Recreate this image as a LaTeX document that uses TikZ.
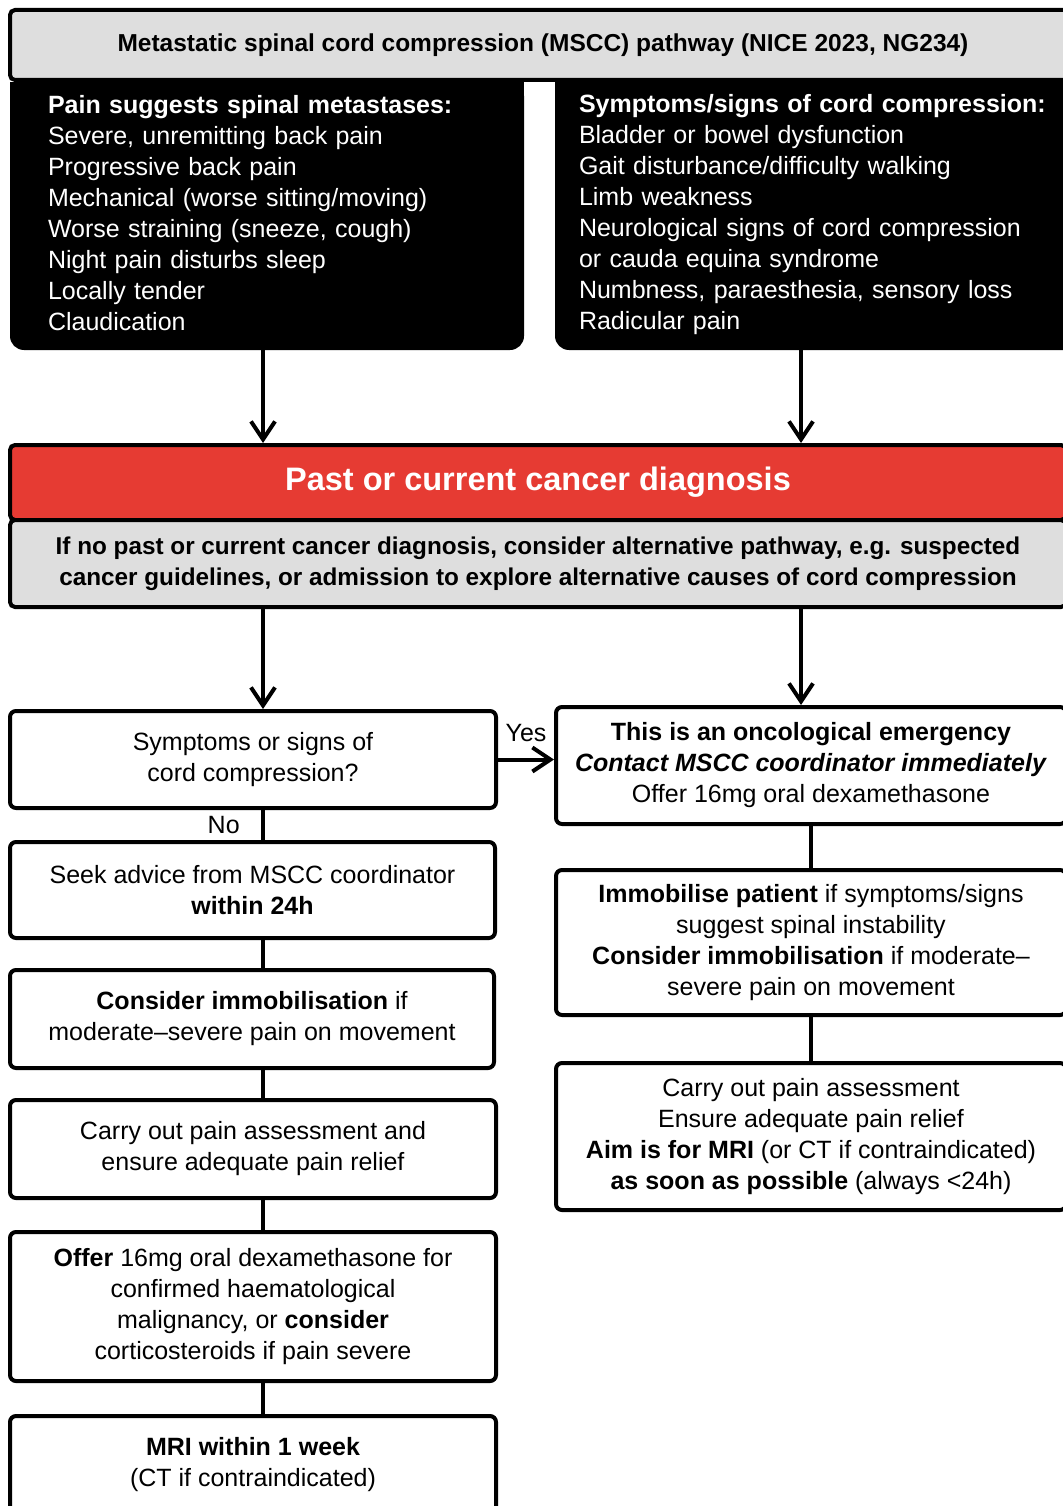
\documentclass[tikz,border=0pt]{standalone}
\usepackage{fontspec}
\setmainfont{Liberation Sans}
\usepackage{xcolor}
\usetikzlibrary{arrows.meta, backgrounds}

\definecolor{alertred}{HTML}{E63B33}
\definecolor{panelgray}{HTML}{DEDEDE}

\tikzset{
	box/.style={draw, line width=4, rounded corners=6, fill=white, align=center, inner sep=0, font=\fontsize{25}{31}\selectfont},
	blackbox/.style={text=white, align=left, inner ysep=0, font=\fontsize{25}{31}\selectfont},
	link/.style={line width=4},
	arr/.style={line width=4, -{Straight Barb[length=18pt, width=24pt]}}
}

\begin{document}
\begin{tikzpicture}[x=1pt, y=-1pt]

\useasboundingbox (0,0) rectangle (1062,1506);

\coordinate (lx) at (263,0);
\coordinate (rx) at (801,0);

% top
\node[box, fill=panelgray, minimum width=1066, minimum height=70, rounded corners=5, font=\bfseries\fontsize{24.5}{28}\selectfont] (head) at (543,45)
	{Metastatic spinal cord compression (MSCC) pathway (NICE 2023, NG234)};

\node[blackbox, text width=438, inner xsep=38, minimum height=268] (pain) at (267,213)
	{\textbf{Pain suggests spinal metastases:}\\
	Severe, unremitting back pain\\
	Progressive back pain\\
	Mechanical (worse sitting/moving)\\
	Worse straining (sneeze, cough)\\
	Night pain disturbs sleep\\
	Locally tender\\
	Claudication};

\node[blackbox, text width=477, inner xsep=24, minimum height=268] (symp) at (817.5,215)
	{\textbf{Symptoms/signs of cord compression:}\\
	Bladder or bowel dysfunction\\
	Gait disturbance/difficulty walking\\
	Limb weakness\\
	Neurological signs of cord compression\\
	or cauda equina syndrome\\
	Numbness, paraesthesia, sensory loss\\
	Radicular pain};

\begin{scope}[on background layer]
	\fill[rounded corners=14] (10,82) rectangle (524,350);
	\fill (10,82) rectangle (524,200);
	\fill[rounded corners=14] (555,82) rectangle (1080,350);
	\fill (555,82) rectangle (1080,200);
\end{scope}

% cancer
\node[box, fill=alertred, text=white, minimum width=1056, minimum height=75, rounded corners=5, font=\bfseries\fontsize{32.5}{38}\selectfont] (cancer) at (538,482.5)
	{Past or current cancer diagnosis};
\node[box, fill=panelgray, minimum width=1056, minimum height=87, rounded corners=5, font=\bfseries\fontsize{24.3}{31}\selectfont] (alt) at (538,563.5)
	{If no past or current cancer diagnosis, consider alternative pathway, e.g. suspected\\
	cancer guidelines, or admission to explore alternative causes of cord compression};

\draw[arr] (pain.south -| lx) -- (cancer.north -| lx);
\draw[arr] (symp.south -| rx) -- (cancer.north -| rx);

% left column
\node[box, minimum width=486, minimum height=97] (ask) at (253,759.5)
	{Symptoms or signs of\\cord compression?};
\node[box, minimum width=485, minimum height=96] (seek) at (252.5,890)
	{Seek advice from MSCC coordinator\\\textbf{within 24h}};
\node[box, minimum width=484, minimum height=98] (consid) at (252,1019)
	{\textbf{Consider immobilisation} if\\moderate–severe pain on movement};
\node[box, minimum width=486, minimum height=98] (relief) at (253,1149)
	{Carry out pain assessment and\\ensure adequate pain relief};
\node[box, minimum width=486, minimum height=149] (offer) at (253,1306.5)
	{\textbf{Offer} 16mg oral dexamethasone for\\confirmed haematological\\malignancy, or \textbf{consider}\\corticosteroids if pain severe};
\node[box, minimum width=486, minimum height=98] (mri) at (253,1465)
	{\textbf{MRI within 1 week}\\(CT if contraindicated)};

% right column
\node[box, minimum width=510, minimum height=117] (emerg) at (811,765.5)
	{\textbf{This is an oncological emergency}\\
	\textbf{\textit{Contact MSCC coordinator immediately}}\\
	Offer 16mg oral dexamethasone};
\node[box, minimum width=510, minimum height=145] (immob) at (811,942.5)
	{\textbf{Immobilise patient} if symptoms/signs\\
	suggest spinal instability\\
	\textbf{Consider immobilisation} if moderate–\\
	severe pain on movement};
\node[box, minimum width=510, minimum height=147] (assess) at (811,1136.5)
	{Carry out pain assessment\\
	Ensure adequate pain relief\\
	\textbf{Aim is for MRI} (or CT if contraindicated)\\
	\textbf{as soon as possible} (always <24h)};

\draw[arr] (alt.south -| lx) -- (ask.north -| lx);
\draw[arr] (alt.south -| rx) -- (emerg.north -| rx);

\draw[arr] (ask.east) -- (ask.east -| emerg.west)
	node[midway, above=12pt, font=\fontsize{25}{31}\selectfont] {Yes};
\draw[link] (ask.south -| lx) -- (seek.north -| lx)
	node[midway, left=18pt, font=\fontsize{25}{31}\selectfont] {No};
\draw[link] (seek.south -| lx) -- (consid.north -| lx);
\draw[link] (consid.south -| lx) -- (relief.north -| lx);
\draw[link] (relief.south -| lx) -- (offer.north -| lx);
\draw[link] (offer.south -| lx) -- (mri.north -| lx);

\draw[link] (emerg) -- (immob);
\draw[link] (immob) -- (assess);

\end{tikzpicture}
\end{document}
